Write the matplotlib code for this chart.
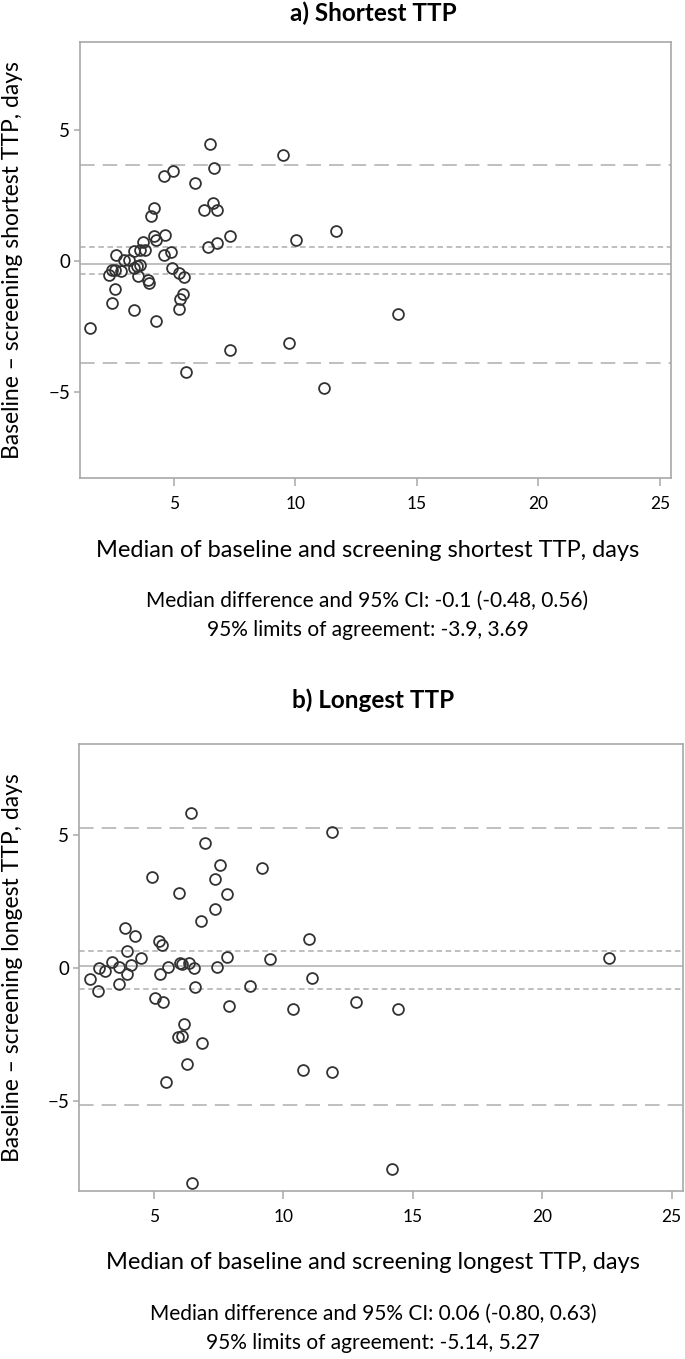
import numpy as np
import matplotlib
matplotlib.use('Agg')
import matplotlib.pyplot as plt

plt.rcParams['font.family'] = ['Lato', 'DejaVu Sans']
plt.rcParams['lines.scale_dashes'] = False

# a) shortest TTP: median of baseline/screening vs difference
x_short = [1.57, 6.48, 9.51, 6.67, 4.60, 4.97, 5.86, 6.62, 6.23, 6.79,
           4.19, 4.05, 7.33, 10.03, 6.40, 6.79, 4.64, 4.18, 4.27, 3.74,
           4.62, 4.90, 3.37, 3.60, 3.84, 2.64, 2.94, 3.15, 2.33, 2.47,
           2.60, 2.84, 3.36, 3.49, 3.60, 3.52, 3.95, 3.97, 4.93, 5.22,
           5.44, 2.59, 5.37, 5.27, 5.23, 2.45, 3.39, 4.29, 7.33, 9.73,
           5.52, 11.67, 14.22, 11.18]
y_short = [-2.54, 4.50, 4.05, 3.58, 3.25, 3.46, 2.98, 2.21, 1.95, 1.95,
           2.02, 1.72, 0.98, 0.82, 0.53, 0.69, 0.99, 0.96, 0.82, 0.73,
           0.24, 0.36, 0.39, 0.43, 0.43, 0.24, 0.04, 0.04, -0.51, -0.32,
           -0.32, -0.36, -0.26, -0.19, -0.16, -0.57, -0.70, -0.85, -0.26, -0.44,
           -0.60, -1.08, -1.25, -1.44, -1.83, -1.61, -1.87, -2.28, -3.41, -3.12,
           -4.22, 1.15, -2.0, -4.85]

# b) longest TTP
x_long = [6.44, 11.89, 6.96, 7.55, 9.17, 4.92, 7.37, 5.98, 7.81, 7.37,
          6.82, 3.87, 4.25, 10.97, 5.18, 5.32, 3.96, 4.51, 7.83, 9.47,
          3.36, 5.99, 6.09, 6.35, 3.66, 4.12, 2.89, 3.10, 5.55, 6.53,
          7.42, 2.54, 3.97, 5.22, 2.85, 3.65, 6.60, 8.70, 11.11, 5.04,
          5.36, 7.89, 10.37, 12.79, 6.16, 5.93, 6.09, 6.84, 6.29, 5.48,
          10.76, 11.89, 6.48, 22.59, 14.44, 14.19]
y_long = [5.84, 5.12, 4.71, 3.87, 3.75, 3.43, 3.33, 2.83, 2.79, 2.21,
          1.75, 1.49, 1.20, 1.10, 1.02, 0.86, 0.64, 0.36, 0.40, 0.33,
          0.24, 0.18, 0.14, 0.20, 0.05, 0.11, -0.01, -0.10, 0.05, -0.01,
          0.03, -0.43, -0.23, -0.23, -0.85, -0.60, -0.73, -0.68, -0.39, -1.14,
          -1.27, -1.42, -1.55, -1.27, -2.09, -2.61, -2.56, -2.81, -3.61, -4.30,
          -3.85, -3.90, -8.09, 0.36, -1.55, -7.57]

# median diff, CI low, CI high, LoA low, LoA high
stats_short = [-0.1, -0.48, 0.56, -3.9, 3.69]
stats_long = [0.06, -0.80, 0.63, -5.14, 5.27]

titles = ['a) Shortest TTP', 'b) Longest TTP']
xlabels = ['Median of baseline and screening shortest TTP, days',
           'Median of baseline and screening longest TTP, days']
ylabels = ['Baseline \u2013 screening shortest TTP, days',
           'Baseline \u2013 screening longest TTP, days']
notes = [['Median difference and 95% CI: -0.1 (-0.48, 0.56)',
          '95% limits of agreement: -3.9, 3.69'],
         ['Median difference and 95% CI: 0.06 (-0.80, 0.63)',
          '95% limits of agreement: -5.14, 5.27']]

W, H = 685, 1359
fig = plt.figure(figsize=(W / 100, H / 100), dpi=100)

# axes boxes in pixels: left, top, right, bottom
boxes = [(80, 42.3, 671, 478.3), (79, 744.3, 683.3, 1190.7)]
xlims = [(1.15, 25.45), (2.1, 25.45)]
ylims = [(-8.3, 8.37), (-8.37, 8.41)]
title_y = [13, 700]
spine_col = '#a8a8a8'
line_col = '#b4b4b4'

for i, (xs, ys, st) in enumerate([(x_short, y_short, stats_short),
                                   (x_long, y_long, stats_long)]):
    l, t, r, b = boxes[i]
    ax = fig.add_axes([l / W, 1 - b / H, (r - l) / W, (b - t) / H])
    med, ci_lo, ci_hi, loa_lo, loa_hi = st
    ax.axhline(med, color=line_col, lw=1.2, zorder=1)
    for v in (ci_lo, ci_hi):
        ax.axhline(v, color=line_col, lw=1.2, dashes=(4, 2.6), zorder=1)
    for v in (loa_lo, loa_hi):
        ax.axhline(v, color=line_col, lw=1.2, dashes=(10.5, 5.8), zorder=1)
    ax.plot(xs, ys, 'o', ms=7.8, mfc='none', mec='#333333', mew=1.3, zorder=3)
    ax.set_xlim(*xlims[i])
    ax.set_ylim(*ylims[i])
    ax.set_xticks([5, 10, 15, 20, 25])
    ax.set_yticks([-5, 0, 5])
    for sp in ax.spines.values():
        sp.set_color(spine_col)
        sp.set_linewidth(1.2)
    ax.tick_params(axis='x', direction='out', length=6, width=1.1, color=spine_col,
                   labelsize=12.5, pad=7)
    ax.tick_params(axis='y', direction='out', length=4, width=1.1, color=spine_col,
                   labelsize=13.5, pad=3)

    cx = (l + r) / 2 - 8
    fig.text(373 / W, 1 - title_y[i] / H, titles[i], ha='center', va='center',
             fontsize=17.5, fontweight='bold')
    fig.text(cx / W, 1 - (b + 72) / H, xlabels[i], ha='center', va='center',
             fontsize=17)
    fig.text(cx / W, 1 - (b + 123) / H, notes[i][0], ha='center', va='center',
             fontsize=15)
    fig.text(cx / W, 1 - (b + 152) / H, notes[i][1], ha='center', va='center',
             fontsize=15)
    fig.text(13 / W, 1 - (t + b) / 2 / H, ylabels[i], ha='center', va='center',
             rotation=90, fontsize=16.5)

fig.savefig('out.png', dpi=100)
